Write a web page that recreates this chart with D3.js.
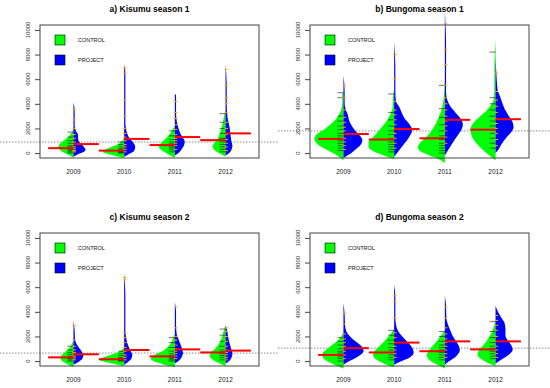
<!DOCTYPE html>
<html>
<head>
<meta charset="utf-8">
<script src="https://cdn.jsdelivr.net/npm/d3@7"></script>
<style>
  body { margin: 0; background: #fff; }
  text { font-family: "Liberation Sans", Arial, sans-serif; }
</style>
</head>
<body>
<svg id="chart" width="550" height="388"></svg>
<script>
// yield per year, CONTROL (green, left half) vs PROJECT (blue, right half)
const years = ["2009", "2010", "2011", "2012"]
const titles = ["a) Kisumu season 1", "b) Bungoma season 1", "c) Kisumu season 2", "d) Bungoma season 2"]
const yTicks = [0, 2000, 4000, 6000, 8000, 10000]

// dotted line = overall mean of each panel
const overallMean = [900, 1800, 650, 1050]
const controlMean = [[400, 200, 650, 1050], [1150, 1100, 1200, 1900], [300, 150, 380, 700], [500, 700, 800, 950]]
const projectMean = [[730, 1150, 1300, 1600], [1550, 1950, 2700, 2750], [550, 900, 950, 850], [1050, 1500, 1600, 1600]]

// bean shapes: [value, relative density]
const controlDensity = [
  [
    [[-400,0],[-200,12],[0,30],[250,45],[500,50],[750,45],[1000,33],[1250,20],[1500,10],[1800,3],[2100,0]],
    [[-400,0],[-200,35],[0,65],[150,72],[300,62],[500,42],[700,22],[900,10],[1100,3],[1300,0]],
    [[-400,0],[-200,15],[0,30],[250,45],[500,53],[750,48],[1000,38],[1300,25],[1600,15],[1900,8],[2200,0]],
    [[-300,0],[-100,15],[200,35],[500,43],[800,38],[1100,28],[1500,20],[2000,14],[2500,9],[3000,5],[3400,0]]
  ],
  [
    [[-600,0],[-300,15],[0,35],[400,65],[800,90],[1200,97],[1600,85],[2000,60],[2500,35],[3000,18],[3500,8],[4000,4],[4800,4],[5000,0]],
    [[-500,0],[-200,35],[100,65],[500,85],[900,85],[1300,70],[1700,55],[2200,38],[2700,22],[3200,12],[3700,5],[4500,4],[5200,0]],
    [[-800,0],[-500,20],[-200,50],[200,85],[500,90],[900,80],[1300,62],[1800,45],[2300,32],[2800,22],[3300,14],[3800,8],[4500,4],[6200,0]],
    [[-600,0],[-300,15],[100,35],[700,60],[1300,78],[1900,83],[2400,75],[2900,55],[3400,32],[3900,15],[4400,6],[5500,4],[7000,4],[9200,0]]
  ],
  [
    [[-500,0],[-250,20],[0,38],[250,43],[500,38],[800,25],[1100,12],[1400,5],[1700,0]],
    [[-400,0],[-200,40],[0,75],[150,83],[300,70],[500,45],[700,22],[900,8],[1100,0]],
    [[-500,0],[-250,40],[0,72],[200,80],[450,70],[750,45],[1100,25],[1500,12],[2000,4],[2200,0]],
    [[-400,0],[-200,20],[100,42],[400,53],[700,48],[1000,35],[1400,22],[1800,14],[2300,8],[2900,0]]
  ],
  [
    [[-600,0],[-300,30],[0,55],[300,68],[600,70],[900,58],[1300,38],[1700,18],[2100,5],[2400,0]],
    [[-500,0],[-250,30],[100,58],[500,70],[900,62],[1300,45],[1700,30],[2100,15],[2600,0]],
    [[-600,0],[-300,25],[100,52],[500,60],[900,52],[1300,38],[1700,25],[2100,12],[2500,0]],
    [[-400,0],[-150,25],[200,50],[500,60],[900,55],[1300,40],[1700,28],[2200,15],[2800,6],[3300,0]]
  ]
]
const projectDensity = [
  [
    [[-300,0],[-100,15],[100,35],[300,40],[500,35],[750,25],[1000,17],[1250,15],[1500,15],[1800,8],[2200,4],[2800,4],[3500,4],[4100,0]],
    [[-300,0],[-100,15],[100,30],[300,35],[500,37],[750,33],[1000,25],[1300,15],[1600,10],[2000,6],[2500,4],[3500,4],[5000,4],[6500,4],[7200,0]],
    [[-200,0],[0,12],[300,22],[600,30],[900,33],[1200,28],[1500,20],[1800,15],[2200,10],[2800,5],[3500,4],[4700,4],[4800,0]],
    [[-200,0],[0,12],[300,20],[600,23],[900,20],[1200,18],[1600,16],[2000,14],[2500,10],[3000,6],[4000,4],[5500,4],[7200,0]]
  ],
  [
    [[-400,0],[-100,20],[300,40],[700,58],[1050,63],[1400,55],[1800,40],[2200,28],[2700,18],[3100,15],[3500,8],[4000,4],[5000,4],[6300,0]],
    [[-300,0],[0,10],[500,25],[1000,42],[1500,55],[1900,60],[2300,52],[2800,35],[3300,25],[3700,18],[4200,6],[5000,4],[7000,4],[9000,0]],
    [[-200,0],[200,10],[800,25],[1400,42],[1900,55],[2300,60],[2800,52],[3300,35],[3800,18],[4300,8],[5000,4],[7000,4],[9000,4],[11500,0]],
    [[0,0],[300,10],[800,22],[1300,38],[1700,52],[2100,60],[2600,55],[3100,42],[3600,30],[4100,22],[4600,15],[5100,7],[6000,4],[7800,0]]
  ],
  [
    [[-300,0],[-100,15],[200,30],[500,33],[800,27],[1100,18],[1400,10],[1800,5],[2500,4],[3300,0]],
    [[-300,0],[-100,12],[200,24],[500,27],[800,22],[1100,16],[1500,10],[2000,6],[2500,4],[4000,4],[5500,4],[7100,0]],
    [[-200,0],[0,12],[300,22],[650,27],[1000,24],[1400,18],[1800,12],[2200,6],[3000,4],[4000,4],[4800,0]],
    [[-200,0],[0,12],[300,20],[600,23],[900,20],[1300,15],[1800,10],[2400,6],[2900,0]]
  ],
  [
    [[-300,0],[0,20],[400,50],[800,67],[1200,60],[1600,40],[2000,22],[2400,10],[3000,5],[3800,4],[4700,0]],
    [[-300,0],[0,25],[300,52],[650,65],[1000,62],[1400,50],[1800,35],[2200,20],[2600,10],[3500,4],[4500,4],[5300,4],[6200,0]],
    [[-300,0],[0,15],[400,38],[900,50],[1300,45],[1700,35],[2100,25],[2500,18],[3000,10],[3500,5],[4500,4],[5300,0]],
    [[-200,0],[200,25],[600,48],[900,57],[1300,52],[1700,40],[2100,33],[2600,33],[3100,30],[3500,20],[4000,8],[4500,0]]
  ]
]

// individual observations (bean lines)
const controlObs = [
  [[0,100,200,300,400,500,600,800,1000,1300,1700],
   [0,50,100,150,200,250,350,500,700,900],
   [100,250,400,500,600,750,900,1100,1400,1800],
   [100,300,500,700,900,1200,1600,2000,2500,3200]],
  [[200,400,600,800,1000,1200,1400,1600,1900,2200,2600,3000,4500,4900],
   [100,300,500,700,900,1200,1500,1800,2200,2700,3300,4800],
   [0,200,400,600,800,1100,1400,1800,2300,2900,3600,5500],
   [400,800,1200,1600,1900,2200,2600,3000,3500,4000,4500,8200]],
  [[0,100,200,300,400,550,700,900,1200],
   [0,50,100,150,200,300,450,600,800],
   [0,100,200,300,450,600,800,1100,1500,1900],
   [100,300,450,600,750,900,1200,1600,2100,2600]],
  [[0,200,350,500,650,800,1000,1300,1600,1900],
   [100,300,500,700,900,1100,1400,1700,2100,2500],
   [100,300,500,700,900,1100,1300,1600,2000,2400],
   [200,400,600,800,1000,1200,1500,1900,2400,3200]]
]
const projectObs = [
  [[100,200,350,500,700,900,1200,1500,2000,2700,3500],
   [100,300,500,700,1000,1300,1600,2000,3000,4300,6500,6900],
   [300,600,800,1000,1200,1500,1900,2300,2800,3300,4200],
   [200,500,800,1100,1500,2000,2500,3300,4000,4500,5500,6800]],
  [[300,600,900,1200,1500,1800,2100,2500,2900,3500,4500,5500],
   [400,800,1200,1600,2000,2300,2700,3100,3500,4200,6000,8000],
   [800,1300,1800,2200,2600,3000,3500,4000,4500,5500,7200,8400,10500],
   [600,1100,1600,2000,2400,2800,3300,3800,4300,5000,6500]],
  [[100,250,400,550,700,900,1200,1700,2900],
   [100,300,500,800,1100,1500,1900,2300,6600,6800],
   [200,400,600,800,1000,1300,1700,2000,2700,4400],
   [100,300,500,700,900,1200,1600,2000,2400,2700]],
  [[200,500,800,1000,1200,1500,1800,2200,3000,3900],
   [300,600,900,1200,1500,1900,2300,3500,4800,5300],
   [300,600,900,1200,1500,1800,2200,2700,3500,4400],
   [300,600,900,1200,1600,2000,2500,2900,3300,3700]]
]

const svg = d3.select('#chart')
svg.append('rect').attr('width', 550).attr('height', 388).attr('fill', '#fff')

const box = {left: 40, top: 25, width: 219, height: 133}

titles.forEach((title, i) => {
  const ox = i % 2 ? 270 : 0
  const oy = i < 2 ? 0 : 208
  const g = svg.append('g').attr('transform', `translate(${ox},${oy})`)

  // R style: xlim 0.5..4.5, ylim 0..10000, each padded 4%
  const x = d3.scaleLinear().domain([0.34, 4.66]).range([box.left, box.left + box.width])
  const y = d3.scaleLinear().domain([-400, 10400]).range([box.top + box.height, box.top])
  const w = d3.scaleLinear().domain([0, 100]).range([0, 30])

  // overall mean, runs across the whole figure cell
  g.append('line')
    .attr('x1', i % 2 ? 8 : 0).attr('x2', i % 2 ? 280 : 279)
    .attr('y1', y(overallMean[i])).attr('y2', y(overallMean[i]))
    .attr('stroke', '#8a8a8a').attr('stroke-width', 1)
    .attr('stroke-dasharray', '1.5,1.5')

  years.forEach((yr, j) => {
    const cx = x(j + 1)
    const leftArea = d3.area().curve(d3.curveMonotoneY)
      .y(d => y(d[0])).x0(cx).x1(d => cx - w(d[1]))
    const rightArea = d3.area().curve(d3.curveMonotoneY)
      .y(d => y(d[0])).x0(cx).x1(d => cx + w(d[1]))

    g.append('path').attr('d', leftArea(controlDensity[i][j])).attr('fill', '#00ff00')
    g.append('path').attr('d', rightArea(projectDensity[i][j])).attr('fill', '#0000ff')

    // bean lines
    g.selectAll(null).data(controlObs[i][j]).join('line')
      .attr('x1', cx - 6).attr('x2', cx)
      .attr('y1', d => y(d)).attr('y2', d => y(d))
      .attr('stroke', '#111').attr('stroke-width', 0.6)
    g.selectAll(null).data(projectObs[i][j]).join('line')
      .attr('x1', cx - 1).attr('x2', cx + 2.5)
      .attr('y1', d => y(d)).attr('y2', d => y(d))
      .attr('stroke', '#ffa500').attr('stroke-width', 1)

    // group means
    g.append('line')
      .attr('x1', x(j + 0.5)).attr('x2', cx)
      .attr('y1', y(controlMean[i][j])).attr('y2', y(controlMean[i][j]))
      .attr('stroke', '#ff0000').attr('stroke-width', 2)
    g.append('line')
      .attr('x1', cx).attr('x2', x(j + 1.5))
      .attr('y1', y(projectMean[i][j])).attr('y2', y(projectMean[i][j]))
      .attr('stroke', '#ff0000').attr('stroke-width', 2)

    g.append('text')
      .attr('x', cx).attr('y', box.top + box.height + 16)
      .attr('text-anchor', 'middle')
      .attr('font-size', 6.5).attr('fill', '#222')
      .text(yr)
  })

  // y axis
  const axis = g.append('g')
    .attr('transform', `translate(${box.left},0)`)
    .call(d3.axisLeft(y).tickValues(yTicks).tickSize(5).tickFormat(''))
  axis.select('.domain').remove()
  axis.selectAll('line').attr('stroke', '#444')

  g.selectAll(null).data(yTicks).join('text')
    .attr('transform', d => `translate(${box.left - 10},${y(d)}) rotate(-90)`)
    .attr('text-anchor', 'middle')
    .attr('font-size', 6).attr('fill', '#333')
    .text(d => d)

  // frame
  g.append('rect')
    .attr('x', box.left).attr('y', box.top)
    .attr('width', box.width).attr('height', box.height)
    .attr('fill', 'none').attr('stroke', '#444').attr('stroke-width', 1)

  g.append('text')
    .attr('x', box.left + box.width / 2).attr('y', box.top - 13)
    .attr('text-anchor', 'middle')
    .attr('font-size', 8.5).attr('font-weight', 'bold')
    .text(title)

  // legend
  const legend = [['CONTROL', '#00ff00'], ['PROJECT', '#0000ff']]
  legend.forEach((l, k) => {
    g.append('rect')
      .attr('x', box.left + 15).attr('y', box.top + 10 + k * 20)
      .attr('width', 10).attr('height', 10)
      .attr('fill', l[1]).attr('stroke', '#000').attr('stroke-width', 0.6)
    g.append('text')
      .attr('x', box.left + 38).attr('y', box.top + 17 + k * 20)
      .attr('font-size', 5.5).attr('fill', '#111')
      .text(l[0])
  })
})
</script>
</body>
</html>
